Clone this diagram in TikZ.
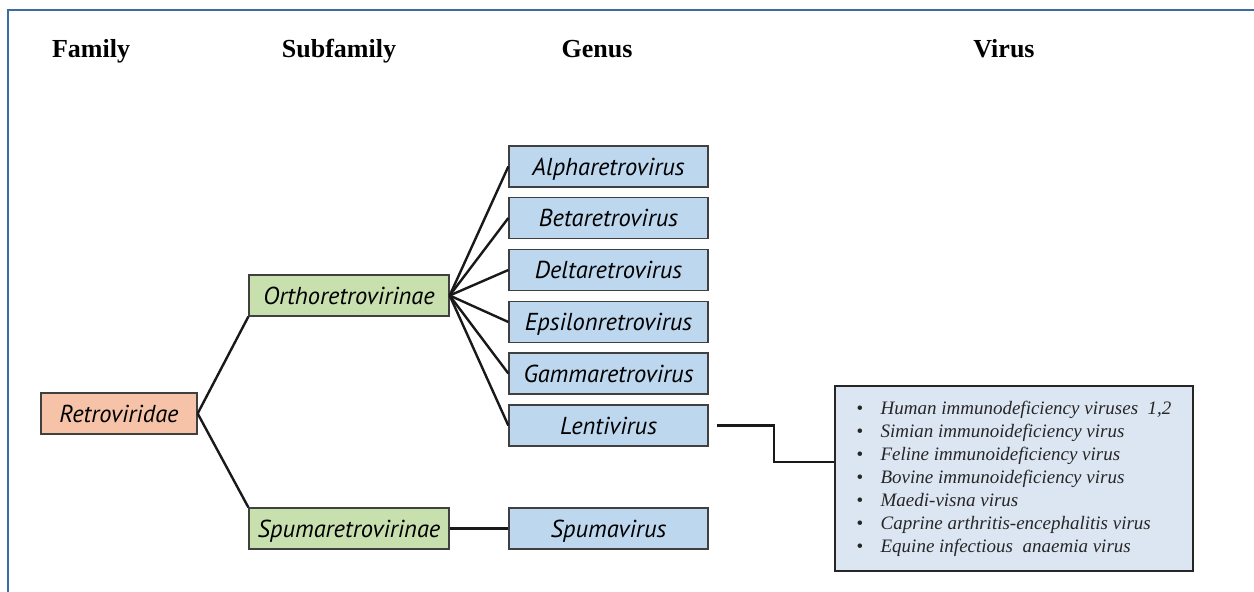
\documentclass[tikz,border=0pt]{standalone}
\usepackage{fontspec}
\setmainfont{Liberation Serif}
\newfontfamily\boxfont{PT Sans}
\definecolor{framec}{HTML}{3C6CA3}
\definecolor{salmon}{HTML}{F7C3A8}
\definecolor{greenf}{HTML}{C8DFAE}
\definecolor{bluef}{HTML}{BDD7EE}
\definecolor{virusf}{HTML}{DCE6F2}
\definecolor{edgec}{HTML}{404040}
\newcommand{\vbul}{\makebox[24pt][l]{\upshape\fontsize{19}{23}\selectfont•}}
\begin{document}
\begin{tikzpicture}[x=1pt,y=-1pt,
  header/.style={font=\fontsize{26}{30}\selectfont\bfseries, inner sep=0pt, anchor=base},
  taxbox/.style={draw=edgec, line width=1.3pt, inner sep=0pt, minimum height=41pt,
    font=\boxfont\itshape\fontsize{24.5}{28}\selectfont, text=black, text depth=0pt},
  famb/.style={taxbox, fill=salmon, minimum width=156pt},
  subb/.style={taxbox, fill=greenf, minimum width=200pt},
  genb/.style={taxbox, fill=bluef, minimum width=199pt},
  link/.style={line width=2.4pt, black!90},
  frame/.style={line width=2.5pt, framec}
]
\useasboundingbox (0,0) rectangle (1254,592);
\draw[frame] (8,592) -- (8,10) -- (1254,10);

\node[header] (hfam) at (91,57) {Family};
\node[header] (hsub) at (339,57) {Subfamily};
\node[header] (hgen) at (597,57) {Genus};
\node[header] (hvir) at (1004,57) {Virus};

\node[famb] (retro) at (119,413.5) {Retroviridae};
\node[subb] (ortho) at (349,295.5) {Orthoretrovirinae};
\node[subb] (spumasub) at (349,528.5) {Spumaretrovirinae};

\node[genb] (alpha) at (608.5,166.5) {Alpharetrovirus};
\node[genb] (beta) at (608.5,218) {Betaretrovirus};
\node[genb] (delta) at (608.5,270) {Deltaretrovirus};
\node[genb] (eps) at (608.5,322) {Epsilonretrovirus};
\node[genb] (gamma) at (608.5,373.5) {Gammaretrovirus};
\node[genb] (lenti) at (608.5,425.5) {Lentivirus};
\node[genb] (spuma) at (608.5,528.5) {Spumavirus};

\node[draw=black!85, line width=1.8pt, fill=virusf, minimum width=358pt, minimum height=185pt,
  inner sep=0pt, align=left, font=\itshape\fontsize{19}{23}\selectfont, text=black!85]
  (virus) at (1014,478.5) {%
  \vbul Human immunodeficiency viruses\ \ 1,2\\
  \vbul Simian immunoideficiency virus\\
  \vbul Feline immunoideficiency virus\\
  \vbul Bovine immunoideficiency virus\\
  \vbul Maedi-visna virus\\
  \vbul Caprine arthritis-encephalitis virus\\
  \vbul Equine infectious\ \ anaemia virus};

\draw[link] (retro.east) -- (ortho.south west);
\draw[link] (retro.east) -- (spumasub.north west);
\foreach \g in {alpha,beta,delta,eps,gamma,lenti}
  \draw[link] (ortho.east) -- (\g.west);
\draw[link] (spumasub.east) -- (spuma.west);

\coordinate (vj) at (774,462);
\draw[link] ([xshift=8pt]lenti.east) -| (vj) -- (vj -| virus.west);
\end{tikzpicture}
\end{document}
